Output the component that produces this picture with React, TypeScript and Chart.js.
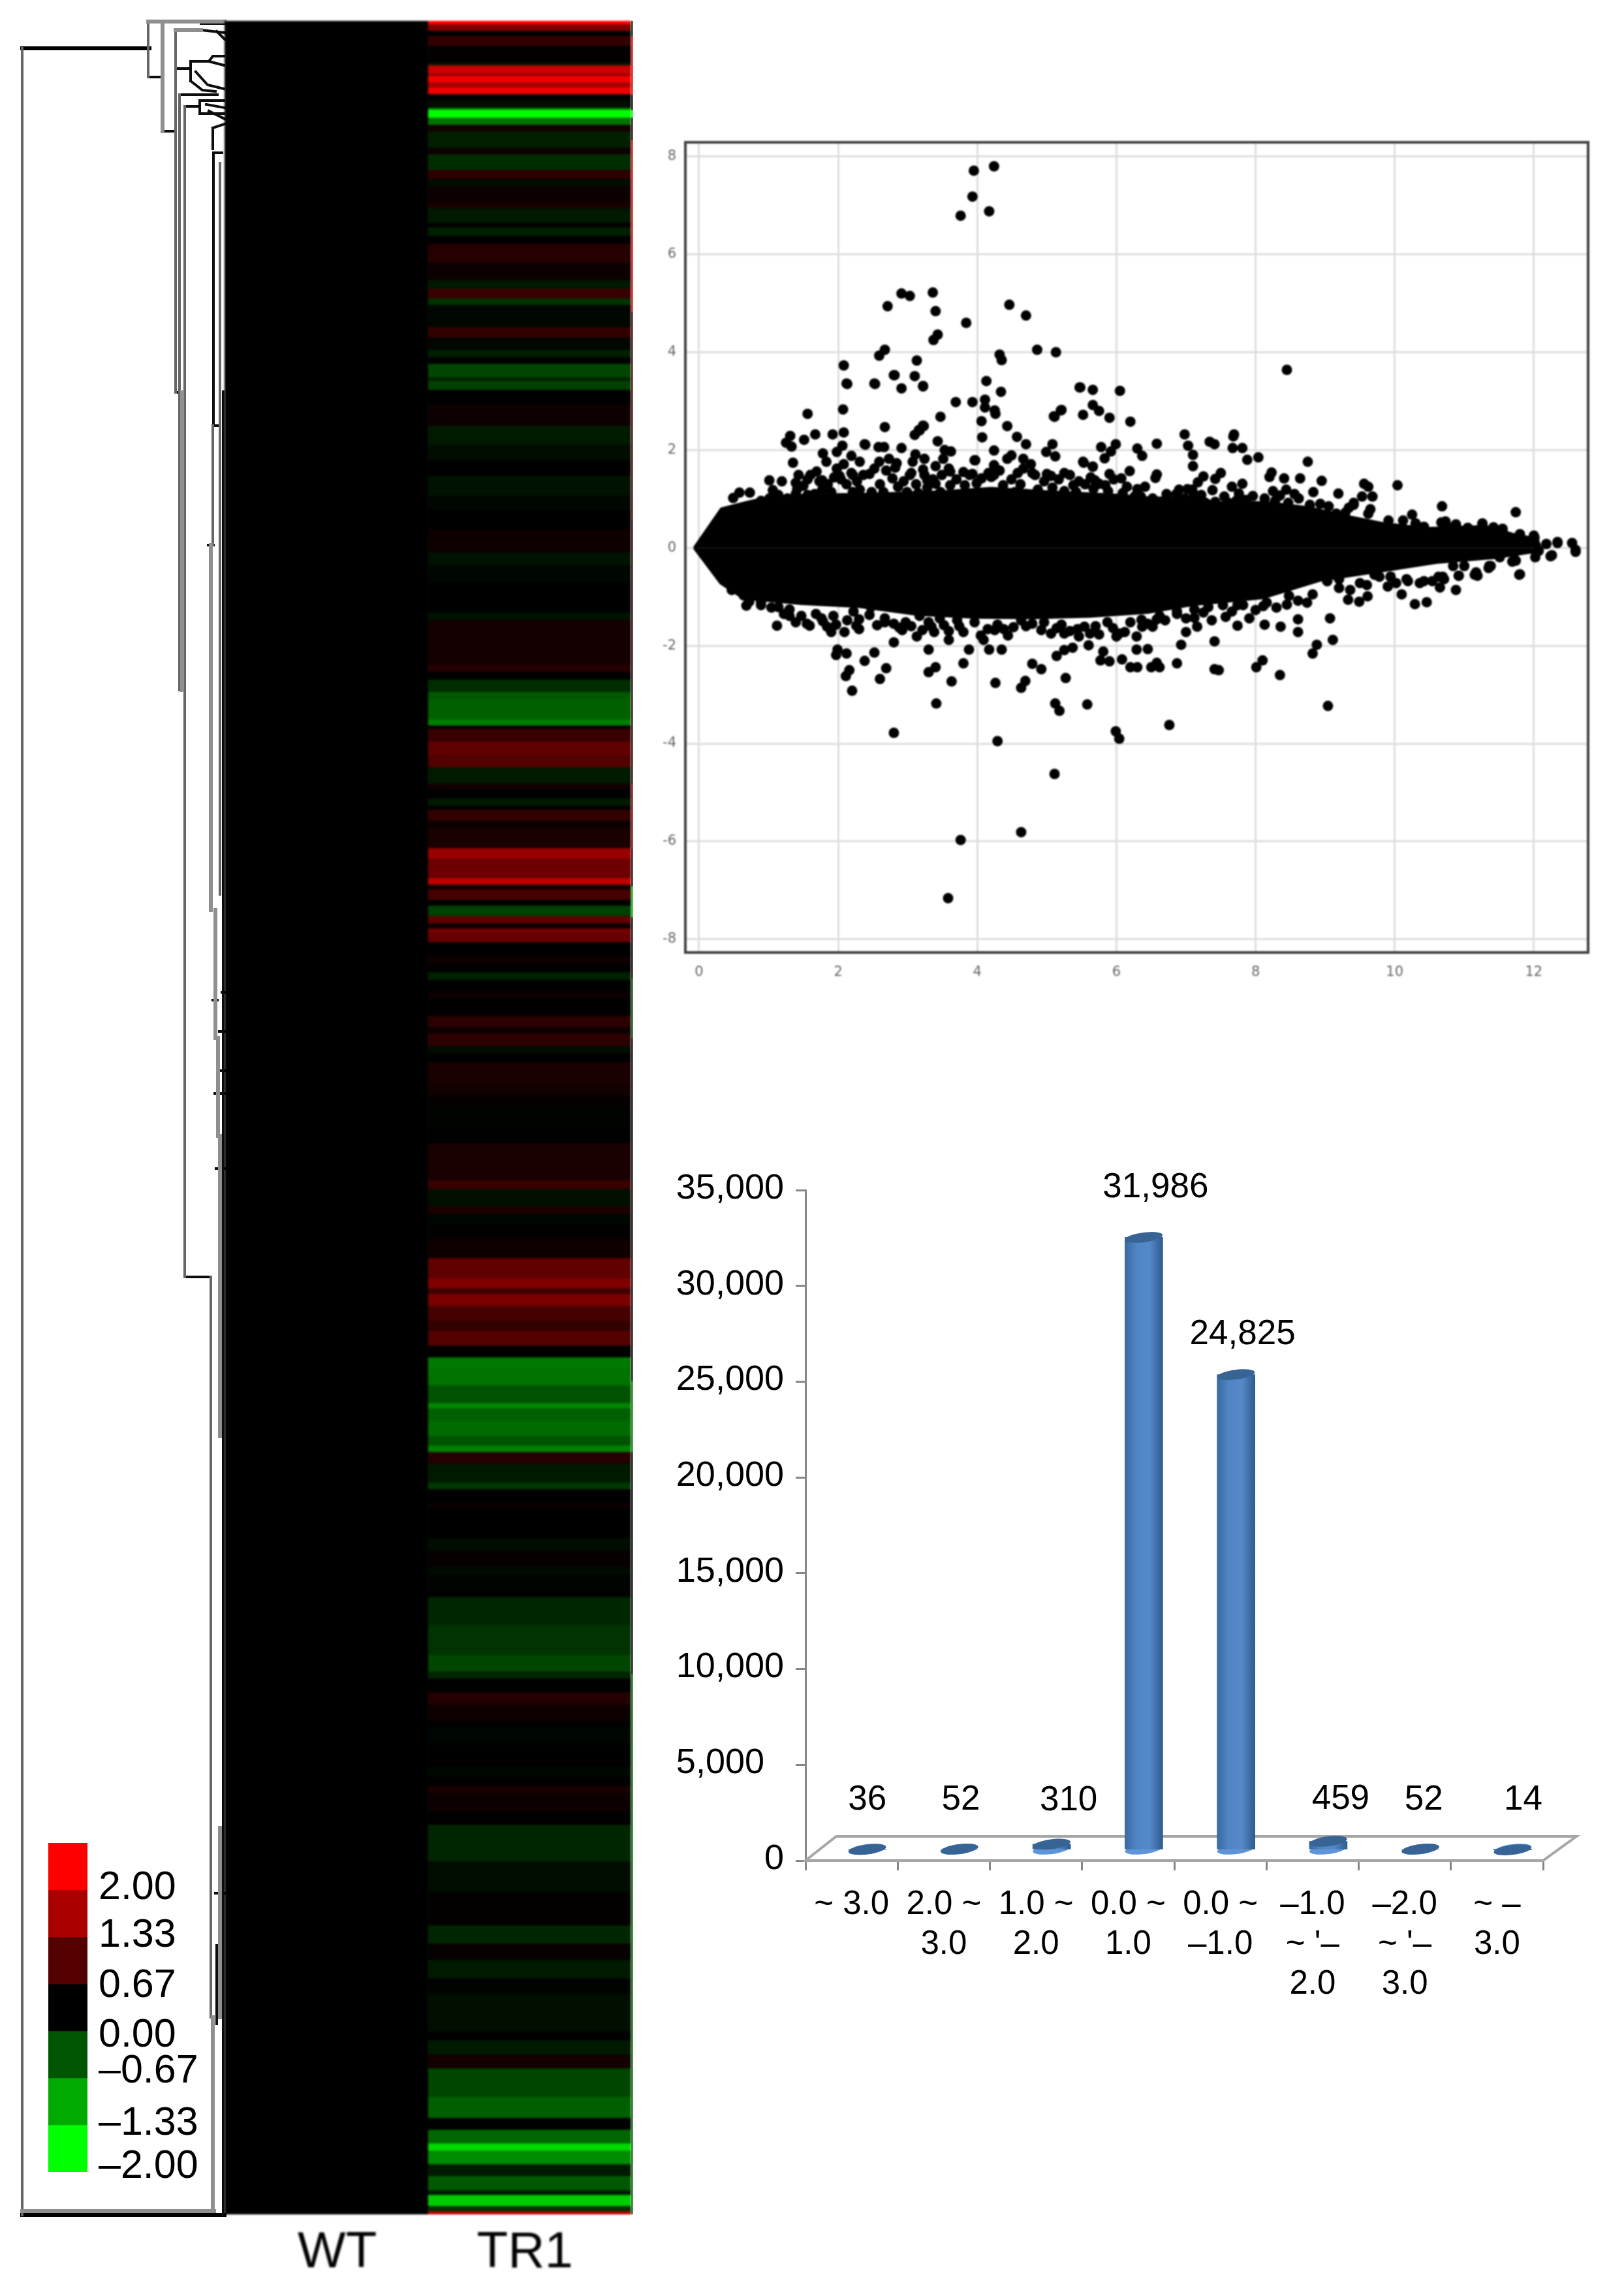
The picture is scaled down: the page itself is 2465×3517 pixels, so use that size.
import React, { useEffect, useRef } from "react";
import { Chart, registerables } from "chart.js";

Chart.register(...registerables);

/* ---------- heat map: [first row, log2 ratio] ---------- */
const heatBands: [number, number][] = [
  [32,2],[37,1],[47,0],[55,.4],[70,.03],[96,-.2],[100,1.6],[113,1.1],[116,1.9],[126,1.3],[134,1.9],[144,0],[153,-.1],[165,-1],[168,-2],[180,-.9],[191,.15],[201,-.25],[226,.1],[236,-.35],[260,.35],[274,-.1],[285,.1],[310,.2],[319,-.2],[341,0],[348,-.25],[361,0],[373,.3],[402,.1],[429,-.2],[442,.45],[457,-.4],[467,-.05],[501,.4],[517,-.05],[536,-.25],[547,0],[557,-.55],[578,-.25],[583,-.5],[597,0],[620,.1],[652,-.2],[681,-.1],[704,0],[729,-.15],[759,-.05],[781,0],[811,.12],[846,-.15],[865,-.05],[892,0],[938,-.15],[949,.15],[1018,.3],[1029,0],[1041,-.35],[1060,-.7],[1071,-.75],[1102,-1],[1111,0],[1116,.45],[1136,.75],[1156,.65],[1175,-.2],
  [1200,.15],[1208,0],[1223,-.2],[1234,0],[1240,.4],[1257,.1],[1269,.2],[1299,1.2],[1315,.85],[1345,1.5],[1355,.1],[1362,.55],[1378,0],[1387,-.5],[1403,.75],[1414,.1],[1422,.9],[1430,.8],[1443,0],[1464,.1],[1477,0],[1489,-.25],[1501,0],[1518,.1],[1529,0],[1556,.35],[1573,.1],[1583,.35],[1602,-.1],[1613,0],[1627,.2],[1659,.15],[1678,.03],[1697,-.02],[1728,0],[1751,.2],[1808,.45],[1821,-.12],[1847,.2],[1860,-.05],[1875,.02],[1898,.12],[1927,.75],[1958,1],[1973,.5],[1982,.95],[2000,.55],[2023,.4],[2038,.65],[2061,0],[2079,-.95],[2095,-.9],[2122,-.65],[2149,-1.05],[2157,-.75],[2176,-.85],[2199,-.65],[2214,-1],[2224,.3],[2242,-.2],[2271,-.45],[2281,0],[2302,.08],[2310,0],[2356,-.1],[2375,.05],
  [2400,-.08],[2411,-.03],[2436,0],[2446,-.3],[2489,-.4],[2535,-.55],[2560,-.3],[2571,0],[2592,.28],[2610,.12],[2635,0],[2646,-.05],[2671,0],[2706,-.06],[2721,0],[2735,.2],[2746,.1],[2774,0],[2795,-.3],[2851,-.1],[2899,.02],[2949,-.3],[2977,.05],[3002,-.2],[3030,-.03],[3054,-.12],[3112,0],[3125,-.2],[3147,.15],[3168,-.55],[3212,-.75],[3244,0],[3262,-.8],[3283,-1.7],[3294,-1.1],[3315,-.2],[3333,-.7],[3355,-.2],[3362,-1.6],[3379,-.4],[3387,1.5],
];
const stripBands: [number, number][] = [
  [32,-.3],[55,1.8],[145,.1],[168,-2],[180,.2],[214,1.8],[478,.5],[800,.3],[1200,1],[1300,.2],[1357,-1.4],[1405,.1],[1498,-.6],[1590,.1],[2115,-1],[2224,.05],[2564,-.8],
];
const heatLastRow = 3392;
const heatColumns = ["WT", "TR1"];
const wtValue = 0;

/* ---------- legend ---------- */
const legendValues = [2, 1.33, 0.67, 0, -0.67, -1.33, -2];
const legendLabels = ["2.00", "1.33", "0.67", "0.00", "\u20130.67", "\u20131.33", "\u20132.00"];
const legendLabelRows = [0.96, 1.97, 3.04, 4.1, 4.86, 5.97, 6.89];

/* ---------- dendrogram branches: x1,y1,x2,y2,... (merge distance, row) ---------- */
const branchesRoot: number[][] = [
  [34,74,229,74],[34,3393,344,3393],
];
const branchesDark: number[][] = [
  [227,118,248,118],[249,201,269,201],[269,105,292,105],
  [275,145,333,145],[283,163,306,163],[306,154,306,174,343,174],[306,154,343,154],[292,94,292,124],[292,94,320,94,326,86,343,86],
  [292,124,310,138,330,140],[300,110,318,130,343,136],[320,94,343,100],[327,234,327,652,337,652],[327,234,340,234],[319,835,327,835],[283,1956,322,1956],
  [269,601,276,601],[275,1057,283,1057],[308,36,344,36],[308,46,344,50],[332,48,344,60],[326,196,326,228],[326,196,344,190],[316,160,344,165],[320,170,344,182],
  [342,600,342,3392],[340,1520,344,1520],[336,1580,344,1580],[338,1640,344,1640],[326,1532,333,1532],[329,1675,344,1675],[331,1790,344,1790],[330,2900,344,2900],[332,2980,332,3100],
];
const branchesMid: number[][] = [
  [34,74,34,3393],[227,33,227,118],[269,46,269,601],[275,145,275,1057],[283,163,283,1956],[337,250,337,1370],[326,652,326,835],[323,1956,323,3090],
];
const branchesPale: number[][] = [
  [227,33,344,33],[249,36,249,201],[269,46,308,46],[279,601,279,1057],[323,835,323,1394],[330,1394,330,1590],[334,1590,334,1740],[337,1740,337,2200],[337,2800,337,3090],[326,3090,326,3387],[34,3387,328,3387],
];

/* ---------- M-A scatter ---------- */
const massUpper: [number, number][] = [[-0.07,0],[0.32,0.8],[0.68,0.93],[0.89,1.0],[1.5,1.08],[2.5,1.1],[3.5,1.15],[4.2,1.22],[5,1.15],[6,1.08],[6.5,1.02],[7,1.03],[7.53,.92],[8.15,.93],[8.78,.82],[9.2,.68],[9.83,.5],[10.46,.4],[10.88,.42],[11.3,.44],[11.7,.28],[12.05,.18],[12.1,0]];
const massLower: [number, number][] = [[-0.07,0],[0.31,-.72],[0.64,-1.03],[1.47,-1.14],[2.3,-1.2],[3.13,-1.36],[3.96,-1.42],[4.79,-1.43],[5.62,-1.4],[6.45,-1.32],[7.1,-1.16],[8.11,-1.02],[8.94,-.66],[9.78,-.48],[10.6,-.3],[11.44,-.2],[12.1,-.06],[12.1,0]];
const scatterPoints: [number, number][] = [
  [4.24,7.8],[3.95,7.71],[3.93,7.18],[4.17,6.88],[3.76,6.79],[3.36,5.22],[2.91,5.2],[3.03,5.15],[2.71,4.94],[3.4,4.84],[4.46,4.97],[4.7,4.75],[3.84,4.6],[3.43,4.36],[3.37,4.25],[4.86,4.05],[5.13,4],[2.67,4.05],[2.59,3.93],[4.32,3.95],[4.35,3.84],[3.13,3.83],[2.08,3.73],[2.81,3.53],[3.1,3.51],[4.13,3.41],[2.13,3.35],[2.53,3.35],[3.22,3.3],[2.91,3.26],[8.45,3.64],[5.47,3.28],[5.66,3.23],[6.05,3.21],[4.34,3.19],[3.69,2.98],[3.93,2.98],[4.11,3.03],[4.11,2.87],[5.66,2.92],[2.07,2.83],[1.56,2.74],[4.25,2.81],[4.26,2.74],[5.2,2.81],[5.1,2.69],[5.75,2.8],[5.52,2.72],[5.9,2.66],[3.47,2.68],[4.06,2.59],[6.2,2.58],[4.43,2.49],[3.22,2.5],[2.67,2.47],[3.16,2.41],[3.1,2.31],[2.08,2.36],[1.67,2.32],[1.92,2.32],[4.07,2.26],[4.57,2.27],[6.98,2.32],[7.69,2.32],[7.68,2.28],[3.43,2.18],[4.7,2.12],[2.39,2.11],[2.06,2.09],[1.25,2.15],[1.31,2.29],[1.33,2.07],[1.51,2.21],[5.08,2.12],[5.99,2.12],[6.58,2.13],[7.34,2.17],[7.41,2.12],[7.03,2.09],[6.3,2.03],[5.78,2.06],[7.67,2.04],[7.81,2.04],[2.58,2.06],[2.66,2.06],[2.91,2.04],[2.38,2.12],[4.24,1.99],[4.99,1.96],[3.53,2],[3.62,1.97],[5.92,1.97],[7.1,1.9],[8.04,1.85],[7.88,1.8],[6.37,1.88],[5.12,1.87],[3.97,1.79],[8.75,1.76],[7.1,1.67],[5.53,1.74],[5.66,1.66],
  [.49,1.02],[.58,1.13],[.73,1.13],[1.01,1.38],[1.19,1.36],[1.06,1.18],[1.41,1.2],[1.43,1.49],[1.56,1.4],[1.35,1.74],[1.69,1.56],[1.77,1.38],[1.98,1.96],[1.78,1.93],[1.83,1.76],[2.19,1.88],[2.31,1.76],[1.98,1.62],[2.08,1.71],[2.02,1.47],[2.21,1.49],[2.45,1.51],[2.59,1.76],[2.73,1.82],[2.84,1.73],[2.82,1.64],[3.11,1.91],[3.24,1.82],[3.07,1.76],[3.4,1.67],[3.51,1.82],[3.05,1.53],[3.22,1.6],[3.61,1.56],[3.93,1.51],[3.28,1.38],[3.4,1.31],[3.96,1.79],[4.24,1.69],[4.49,1.89],[4.66,1.82],[4.77,1.71],[4.43,1.82],[4.58,1.53],[4.79,1.53],[5,1.51],[5.25,1.53],[5.46,1.36],[5.52,1.76],[5.66,1.66],[5.83,1.83],[5.9,1.51],[6.19,1.57],[6.07,1.42],[5.69,1.38],[5.11,2.68],[5.21,2.82],[5.48,3.28],[2.12,3.36],[2.52,3.36],[2.8,3.53],[3.22,3.31],[3.17,2.4],[3.23,2.49],
  [6.58,1.5],[6.56,1.43],[6.41,1.25],[7.25,1.46],[7.17,1.34],[7.5,1.53],[7.42,1.41],[7.38,1.18],[7.09,1.19],[6.9,1.19],[7.81,1.31],[7.66,1.25],[7.76,1.11],[7.96,1.06],[8.23,1.54],[8.2,1.45],[8.41,1.42],[8.64,1.42],[8.95,1.37],[8.25,1.16],[8.44,1.19],[8.83,1.14],[9.19,1.11],[9.56,1.31],[9.62,1.25],[10.04,1.28],[9.53,1.05],[9.68,1.05],[9.41,.92],[9.65,.79],[10.25,.68],[10.68,.85],[11.74,.73],[11.26,.5],[10.73,.54],[10.88,.48],[11.55,.39],[12,.25],[12.34,.12],[12.55,.1],[12.6,-.04],[12.26,-.15],[11.8,-.54],[10.92,-.57],[11.17,-.55],[10.71,-.64],[11.38,-.37],[11.74,-.26],
  [1.12,-1.59],[1.39,-1.52],[1.59,-1.59],[1.3,-1.39],[1.76,-1.44],[1.9,-1.72],[2.09,-1.72],[2.26,-1.59],[2.3,-1.46],[1.97,-1.57],[2.67,-1.52],[2.92,-1.68],[3.13,-1.81],[3.21,-1.68],[3.38,-1.72],[3.59,-1.88],[3.59,-1.7],[3.8,-1.72],[4.09,-1.88],[4.25,-1.68],[4.44,-1.79],[4.92,-1.68],[5.06,-1.75],[5.25,-1.75],[5.46,-1.81],[5.75,-1.77],[6,-1.81],[6.12,-1.72],[6.29,-1.81],[6.37,-1.61],[6.52,-1.61],[7,-1.72],[7.16,-1.61],[7.37,-1.48],[7.57,-1.41],[7.74,-1.59],[7.91,-1.44],[8.13,-1.57],[8.36,-1.61],[8.61,-1.46],[8.61,-1.72],[9.07,-1.44],[2.8,-1.93],[1.99,-2.08],[1.97,-2.19],[2.12,-2.16],[2.52,-2.14],[2.38,-2.31],[2.69,-2.46],[2.16,-2.5],[2.11,-2.62],[2.6,-2.68],[2.2,-2.92],[3.3,-2.08],[3.88,-2.08],[4.17,-2.08],[4.35,-2.08],[3.8,-2.36],[3.4,-2.44],[3.3,-2.54],[3.63,-2.73],[4.26,-2.76],[4.69,-2.72],[4.63,-2.86],[4.79,-2.37],[4.92,-2.48],[5.27,-2.66],[5.6,-1.99],[5.37,-2.04],[5.25,-2.09],[5.14,-2.21],[5.81,-2.12],[5.77,-2.3],[5.9,-2.32],[6.08,-2.28],[6.2,-2.44],[6.3,-2.44],[6.29,-2.08],[6.45,-2.07],[6.5,-2.44],[6.58,-2.35],[6.62,-2.44],[6.87,-2.36],[6.93,-1.98],[7.41,-1.91],[7.41,-2.48],[7.47,-2.5],[8.01,-2.44],[8.1,-2.3],[8.35,-2.6],[8.82,-2.16],[8.88,-1.98],[9.11,-1.88],[3.41,-3.18],[5.12,-3.18],[5.18,-3.33],[5.58,-3.2],[9.04,-3.23],[2.8,-3.78],[4.29,-3.95],[5.99,-3.75],[6.04,-3.9],[6.76,-3.62],[9.9,-.79],[10.1,-.95],[10.29,-1.15],[10.46,-1.11],[10.65,-.81],[10.88,-.86],[10.92,-.57],[11.79,-.55],[9.61,-.99],[9.33,-1.06],[9.49,-1.1],[8.82,-.95],[8.74,-1.12],[8.45,-1.16],[7.74,-1.17],[8.11,-1.19],[7.32,-1.21],[6.87,-1.3],[6.58,-1.46],[.68,-1.18],[.89,-1.17],[.47,-.86],[.64,-.97],[1.14,-1.21],[10.36,-.72],[9.94,-.59],[11.19,-.57],[11.35,-.41],[12.24,-.17],[12.6,-.08],[5.11,-4.62],[4.63,-5.81],[3.76,-5.97],[3.58,-7.16],
];
const massEdgePoints: [number, number][] = [
  [.89,.96],[1.01,1.01],[1.14,1.08],[1.27,1.01],[1.39,1.1],[1.56,1.08],[1.66,1.1],[1.77,1.19],[1.9,1.14],[2.06,1.01],[2.21,1.14],[2.31,1.19],[2.48,1.14],[2.65,1.14],[2.86,1.25],[2.99,1.14],[3.15,1.12],[3.28,1.23],[3.47,1.14],[3.61,1.28],[3.82,1.28],[3.99,1.32],[4.2,1.45],[4.37,1.28],[4.54,1.14],[4.7,1.1],[4.87,1.19],[5.08,1.23],[5.25,1.16],[5.42,1.14],[5.67,1.21],[5.88,1.16],[6.09,1.12],[6.26,1.05],
  [1.39,1.33],[1.6,1.49],[1.73,1.36],[1.94,1.44],[2.04,1.4],[2.19,1.53],[2.36,1.49],[2.52,1.62],[2.69,1.58],[2.78,1.42],[3.03,1.49],[3.24,1.49],[3.49,1.49],[3.59,1.62],[3.89,1.49],[4.16,1.53],[4.24,1.49],[4.49,1.4],[4.66,1.62],[4.83,1.49],[5.06,1.47],[5.17,1.4],[5.33,1.49],[5.63,1.44],[5.75,1.31],[5.96,1.4],
  [1.5,1.27],[1.85,1.3],[2.12,1.3],[2.27,1.36],[2.6,1.3],[2.94,1.36],[3.12,1.3],[3.36,1.4],[3.7,1.4],[3.8,1.55],[4.06,1.42],[4.32,1.58],[4.62,1.3],[4.96,1.36],[5.38,1.28],[5.55,1.3],[5.84,1.28],[6.15,1.25],[6.3,1.2],[6.72,1.1],[7.02,1.2],[7.22,1.08],[7.55,1.05],[7.86,.98],[8.35,1.07],[8.56,1.1],[9.05,.85],[9.34,.82],[10.3,.5],[10.75,.44],[11.42,.42],
  [6.35,1.05],[6.52,1.01],[6.69,.96],[6.86,1.1],[6.98,1.01],[7.11,1.1],[7.28,.92],[7.42,.94],[7.61,.92],[7.72,.96],[7.95,.83],[8.13,1.01],[8.28,.96],[8.47,.92],[8.62,1.01],[8.78,.88],[8.93,.9],[9.16,.7],[9.29,.72],[9.41,.88],[9.62,.7],[9.91,.56],[10.12,.56],[10.42,.43],[10.67,.52],[10.88,.45],[11.05,.41],[11.26,.48],[11.55,.34],[11.8,.28],[12.01,.21],[12.18,.08],[12.34,.1],[12.07,-.06],[11.72,-.24],[11.51,-.19],[11.36,-.37],[11.17,-.5],[11,-.37],[10.84,-.37],[10.63,-.59],[10.42,-.68],[10.17,-.64],[9.94,-.59],[9.71,-.55],[9.5,-.72],[9.2,-.64],[9.03,-.68],[8.87,-.59],
  [.72,-1.1],[.89,-1.1],[1.3,-1.26],[1.47,-1.39],[1.68,-1.35],[1.93,-1.39],[2.22,-1.3],[2.47,-1.21],[2.67,-1.44],[2.97,-1.52],[3.17,-1.39],[3.46,-1.44],[3.71,-1.48],[3.96,-1.52],[4.29,-1.57],[4.63,-1.48],[4.96,-1.52],[5.21,-1.57],[5.54,-1.61],[5.87,-1.52],[6.2,-1.52],[6.62,-1.39],[6.87,-1.35],[7.12,-1.26],[7.53,-1.17],[7.82,-1.17],[8.16,-1.12],[8.61,-1.08],[9.03,-.68],[9.36,-.86],[9.78,-.59],[10.19,-.68],[10.69,-.59],[11.15,-.55],[11.69,-.28],[12.02,-.19],
  [1.22,-1.35],[1.55,-1.55],[1.84,-1.61],[2.3,-1.66],[2.88,-1.63],[3.34,-1.61],[4.05,-1.79],[4.38,-1.66],[4.79,-1.55],[5.33,-1.7],[5.62,-1.75],[6.04,-1.75],[6.45,-1.55],[7.12,-1.43],
  [1.04,-1.22],[1.78,-1.5],[2.13,-1.48],[2.45,-1.37],[2.56,-1.58],[2.8,-1.55],[3.05,-1.6],[3.3,-1.52],[3.52,-1.58],[3.74,-1.6],[4.15,-1.66],[4.52,-1.62],[4.7,-1.6],[5.14,-1.64],[5.44,-1.66],[5.7,-1.6],[5.95,-1.64],[6.36,-1.47],[6.7,-1.48],[7,-1.44],[7.25,-1.32],[7.66,-1.3],[8,-1.27],[8.3,-1.22],[8.48,-.98],[9.2,-.82],[9.6,-.76],[10.02,-.72],[10.54,-.68],
];

/* ---------- 3-D column chart ---------- */
const barCategories = [["~ 3.0"],["2.0 ~","3.0"],["1.0 ~","2.0"],["0.0 ~","1.0"],["0.0 ~","\u20131.0"],["\u20131.0","~ '\u2013","2.0"],["\u20132.0","~ '\u2013","3.0"],["~ \u2013","3.0"]];
const barValues = [36, 52, 310, 31986, 24825, 459, 52, 14];
const labelNudgeX = [0, 2, 26, 18, 10, 19, 5, 16];
const labelNudgeY = [4, 5, 13, 4, 19, 16, 5, 4];

const SANS = "'Liberation Sans', Arial, sans-serif";

const heatColor = (v: number) => {
  const c = Math.round(Math.min(1, Math.abs(v) / 2) * 255);
  return v >= 0 ? `rgb(${c},0,0)` : `rgb(0,${c},0)`;
};
const toXY = (pts: [number, number][]) => pts.map(([x, y]) => ({ x, y }));
const toSeg = (f: number[]) => {
  const out: { x: number; y: number }[] = [];
  for (let i = 0; i < f.length; i += 2) out.push({ x: f[i], y: f[i + 1] });
  return out;
};
const plainBar = { grouped: false, barPercentage: 1, categoryPercentage: 1, borderWidth: 0 };
const quiet = { legend: { display: false }, tooltip: { enabled: false } };

function makeHeat(cv: HTMLCanvasElement) {
  const bands = heatBands.map(([start, v], i) => {
    const end = i + 1 < heatBands.length ? heatBands[i + 1][0] : heatLastRow;
    return { ...plainBar, data: [null, [start, end]], backgroundColor: heatColor(v) };
  });
  const wt = { ...plainBar, data: [[heatBands[0][0], heatLastRow], null], backgroundColor: heatColor(wtValue) };
  const labelNudge = [17, -7];
  return new Chart(cv, {
    type: "bar",
    data: { labels: heatColumns, datasets: [wt, ...bands] as any },
    options: {
      animation: false, responsive: false, maintainAspectRatio: false,
      layout: { padding: { left: 0, right: 0, top: 0, bottom: 120 } },
      plugins: quiet,
      scales: {
        x: { display: false },
        y: { display: false, reverse: true, min: heatBands[0][0], max: heatLastRow },
      },
    },
    plugins: [{
      id: "columnLabels",
      afterDraw(chart: any) {
        const { ctx, scales, chartArea } = chart;
        ctx.save();
        ctx.fillStyle = "#000";
        ctx.font = `78px ${SANS}`;
        ctx.textAlign = "center";
        ctx.textBaseline = "middle";
        heatColumns.forEach((name, i) => ctx.fillText(name, scales.x.getPixelForValue(i) + labelNudge[i], chartArea.bottom + 59));
        ctx.restore();
      },
    }],
  } as any);
}

function makeStrip(cv: HTMLCanvasElement) {
  return new Chart(cv, {
    type: "bar",
    data: {
      labels: ["edge"],
      datasets: stripBands.map(([start, v], i) => ({
        ...plainBar,
        data: [[start, i + 1 < stripBands.length ? stripBands[i + 1][0] : heatLastRow]],
        backgroundColor: heatColor(v),
      })) as any,
    },
    options: {
      animation: false, responsive: false, maintainAspectRatio: false,
      layout: { padding: 0 },
      plugins: quiet,
      scales: {
        x: { display: false },
        y: { display: false, reverse: true, min: heatBands[0][0], max: heatLastRow },
      },
    },
  } as any);
}

function makeLegend(cv: HTMLCanvasElement) {
  return new Chart(cv, {
    type: "bar",
    data: {
      labels: ["scale"],
      datasets: legendValues.map((v, i) => ({ ...plainBar, data: [[i, i + 1]], backgroundColor: heatColor(v) })) as any,
    },
    options: {
      animation: false, responsive: false, maintainAspectRatio: false,
      layout: { padding: { left: 14, top: 23, bottom: 33, right: 0 } },
      plugins: quiet,
      scales: {
        x: { display: false },
        y: {
          position: "right", reverse: true, min: 0, max: 7,
          grid: { display: false }, border: { display: false },
          afterBuildTicks(axis: any) { axis.ticks = legendLabelRows.map((value) => ({ value })); },
          afterFit(axis: any) { axis.width = 206; axis.paddingTop = 0; axis.paddingBottom = 0; },
          ticks: { autoSkip: false, padding: 9, color: "#000", font: { family: SANS, size: 61 }, callback: (_v: any, i: number) => legendLabels[i] },
        },
      },
    },
  } as any);
}

function makeDendro(cv: HTMLCanvasElement) {
  const mk = (list: number[][], color: string, width: number) =>
    list.map((f) => ({ data: toSeg(f), showLine: true, borderColor: color, borderWidth: width, pointRadius: 0, tension: 0, clip: false, borderCapStyle: "square" }));
  return new Chart(cv, {
    type: "scatter",
    data: {
      datasets: [
        ...mk(branchesPale, "#8f8f8f", 6),
        ...mk(branchesMid, "#666666", 4),
        ...mk(branchesDark, "#0d0d0d", 4),
        ...mk(branchesRoot, "#000000", 6),
      ] as any,
    },
    options: {
      animation: false, responsive: false, maintainAspectRatio: false,
      layout: { padding: 0 },
      plugins: quiet,
      scales: {
        x: { display: false, min: 0, max: 350 },
        y: { display: false, reverse: true, min: 0, max: 3400 },
      },
    },
  } as any);
}

function makeScatter(cv: HTMLCanvasElement) {
  const mass = (pts: [number, number][]) => ({ data: toXY(pts), showLine: true, fill: "origin", backgroundColor: "#000", borderColor: "#000", borderWidth: 4, pointRadius: 0, tension: 0 });
  return new Chart(cv, {
    type: "scatter",
    data: {
      datasets: [
        mass(massUpper), mass(massLower),
        { data: toXY(massEdgePoints), pointRadius: 8, pointBackgroundColor: "#000", pointBorderWidth: 0, showLine: false },
        { data: toXY(scatterPoints), pointRadius: 8, pointBackgroundColor: "#000", pointBorderWidth: 0, showLine: false },
      ] as any,
    },
    options: {
      animation: false, responsive: false, maintainAspectRatio: false,
      layout: { padding: { left: 0, right: 32, top: 28, bottom: 0 } },
      plugins: quiet,
      scales: {
        x: {
          min: -0.197, max: 12.78,
          grid: { color: "#dedede", lineWidth: 3, drawTicks: false }, border: { display: false },
          afterFit(axis: any) { axis.height = 51; },
          ticks: { stepSize: 2, includeBounds: false, padding: 18, maxRotation: 0, color: "#666", font: { family: "'DejaVu Sans', sans-serif", size: 21 } },
        },
        y: {
          min: -8.27, max: 8.29,
          grid: { color: "#dedede", lineWidth: 3, drawTicks: false }, border: { display: false },
          afterFit(axis: any) { axis.width = 90; },
          ticks: { stepSize: 2, includeBounds: false, padding: 14, color: "#666", font: { family: "'DejaVu Sans', sans-serif", size: 21 } },
        },
      },
    },
    plugins: [{
      id: "frame",
      afterDatasetsDraw(chart: any) {
        const { ctx, chartArea: a } = chart;
        ctx.save();
        ctx.strokeStyle = "#404040";
        ctx.lineWidth = 4;
        ctx.strokeRect(a.left, a.top, a.right - a.left, a.bottom - a.top);
        ctx.restore();
      },
    }],
  } as any);
}

function makeBars(cv: HTMLCanvasElement) {
  const dx = 24, dy = -16, rx = 29, ry = 7.5, rot = -0.13;
  const grey = "#868686";
  const oval = (ctx: any, x: number, y: number, fill: any) => {
    ctx.fillStyle = fill;
    ctx.beginPath();
    ctx.ellipse(x, y, rx, ry, rot, 0, Math.PI * 2);
    ctx.fill();
  };
  const shade = (ctx: any, x: number) => {
    const g = ctx.createLinearGradient(x - rx, 0, x + rx, 0);
    g.addColorStop(0, "#396a9f");
    g.addColorStop(0.3, "#4f84c5");
    g.addColorStop(0.65, "#5689c9");
    g.addColorStop(1, "#2e5b8f");
    return g;
  };
  const plugin = {
    id: "cylinders",
    beforeDatasetsDraw(chart: any) {
      const { ctx, chartArea: a } = chart;
      ctx.save();
      ctx.beginPath();
      ctx.moveTo(a.left, a.bottom);
      ctx.lineTo(a.left + 47, a.bottom - 37);
      ctx.lineTo(a.right + 51, a.bottom - 37);
      ctx.lineTo(a.right, a.bottom);
      ctx.closePath();
      ctx.fillStyle = "#fff";
      ctx.fill();
      ctx.strokeStyle = "#a6a6a6";
      ctx.lineWidth = 4;
      ctx.stroke();
      ctx.restore();
    },
    beforeDatasetDraw(chart: any) {
      const { ctx } = chart;
      ctx.save();
      ctx.translate(dx, dy);
      chart.getDatasetMeta(0).data.forEach((b: any) => oval(ctx, b.x, b.base, "#5f95d8"));
    },
    afterDatasetDraw(chart: any) {
      const { ctx } = chart;
      chart.getDatasetMeta(0).data.forEach((b: any) => oval(ctx, b.x, b.y, "#376395"));
      ctx.restore();
      ctx.save();
      ctx.fillStyle = "#000";
      ctx.font = `53px ${SANS}`;
      ctx.textAlign = "center";
      ctx.textBaseline = "middle";
      chart.getDatasetMeta(0).data.forEach((b: any, i: number) => {
        const text = barValues[i].toLocaleString("en-US");
        ctx.fillText(text, b.x + dx + labelNudgeX[i], b.y + dy - 80 + labelNudgeY[i]);
      });
      ctx.restore();
    },
  };
  const tickFont = { family: SANS, size: 51, lineHeight: 1.2 };
  return new Chart(cv, {
    type: "bar",
    data: {
      labels: barCategories,
      datasets: [{
        data: barValues, barThickness: rx * 2, borderWidth: 0, clip: false,
        backgroundColor: (c: any) => {
          if (!c.chart.chartArea) return "#4f81bd";
          return shade(c.chart.ctx, c.chart.scales.x.getPixelForValue(c.dataIndex));
        },
      }] as any,
    },
    options: {
      animation: false, responsive: false, maintainAspectRatio: false,
      layout: { padding: { left: 0, right: 101, top: 73, bottom: 0 } },
      plugins: quiet,
      scales: {
        x: {
          grid: { drawOnChartArea: false, color: grey, lineWidth: 3, tickLength: 15 },
          border: { color: grey, width: 3 },
          afterFit(axis: any) { axis.height = 300; },
          ticks: { padding: 22, maxRotation: 0, autoSkip: false, color: "#000", font: tickFont },
        },
        y: {
          min: 0, max: 35000,
          grid: { drawOnChartArea: false, color: grey, lineWidth: 3, tickLength: 15 },
          border: { color: grey, width: 3 },
          afterFit(axis: any) { axis.width = 234; },
          ticks: {
            stepSize: 5000, padding: 18, labelOffset: -2, color: "#000", font: { family: SANS, size: 54 },
            callback: (v: number) => (v === 5000 ? "5,000\u00a0\u00a0" : Number(v).toLocaleString("en-US")),
          },
        },
      },
    },
    plugins: [plugin],
  } as any);
}

const place = (left: number, top: number, w: number, h: number, blur = 0, opacity = 1): React.CSSProperties => ({
  position: "absolute", left, top, width: w, height: h, display: "block", opacity, filter: blur ? `blur(${blur}px)` : undefined,
});

export default function App() {
  const dendro = useRef<HTMLCanvasElement>(null);
  const heat = useRef<HTMLCanvasElement>(null);
  const strip = useRef<HTMLCanvasElement>(null);
  const legend = useRef<HTMLCanvasElement>(null);
  const scatter = useRef<HTMLCanvasElement>(null);
  const bars = useRef<HTMLCanvasElement>(null);
  useEffect(() => {
    const charts = [
      makeDendro(dendro.current!),
      makeHeat(heat.current!),
      makeStrip(strip.current!),
      makeLegend(legend.current!),
      makeScatter(scatter.current!),
      makeBars(bars.current!),
    ];
    return () => charts.forEach((c) => c.destroy());
  }, []);
  return (
    <div style={{ position: "absolute", left: 0, top: 0, width: 2465, height: 3517, background: "#fff", overflow: "hidden" }}>
      <canvas ref={dendro} width={350} height={3400} style={place(0, 0, 350, 3400, 0.7)} />
      <canvas ref={heat} width={623} height={3480} style={place(344, 32, 623, 3480, 1.6)} />
      <canvas ref={strip} width={3} height={3360} style={place(967, 32, 3, 3360, 0.5, 0.7)} />
      <canvas ref={legend} width={280} height={560} style={place(60, 2800, 280, 560, 0.5)} />
      <canvas ref={scatter} width={1505} height={1320} style={place(960, 190, 1505, 1320, 0.8)} />
      <canvas ref={bars} width={1465} height={1400} style={place(1000, 1750, 1465, 1400, 0.4)} />
    </div>
  );
}
